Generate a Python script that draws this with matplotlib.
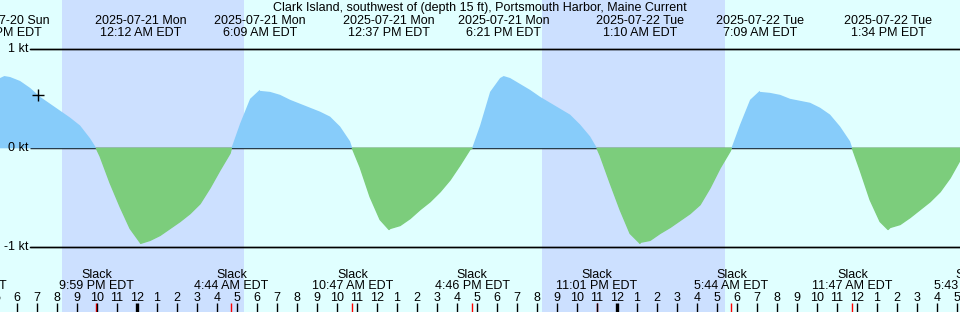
import matplotlib
matplotlib.use("Agg")
import matplotlib.pyplot as plt
import matplotlib.transforms as mtransforms
from datetime import datetime
import numpy as np

# ---------------- data ----------------
title = "Clark Island, southwest of (depth 15 ft), Portsmouth Harbor, Maine Current"
base_time = "2025-07-21 00:00"

# current curve samples (hours since 2025-07-21 00:00 EDT, knots)
curve_hours = [-6.83, -6.33, -5.83, -5.33, -4.83, -4.33, -3.83, -3.33, -2.83, -2.33,
               -1.83, -1.33, -0.83, -0.33, 0.17, 0.67, 1.17, 1.67, 2.17, 2.67,
               3.17, 3.67, 4.17, 4.67, 5.17, 5.67, 6.17, 6.67, 7.17, 7.67,
               8.17, 8.67, 9.17, 9.67, 10.17, 10.67, 11.17, 11.67, 12.17, 12.67,
               13.17, 13.67, 14.17, 14.67, 15.17, 15.67, 16.17, 16.67, 17.17, 17.67,
               18.17, 18.67, 19.17, 19.67, 20.17, 20.67, 21.17, 21.67, 22.17, 22.67,
               23.17, 23.67, 24.17, 24.67, 25.17, 25.67, 26.17, 26.67, 27.17, 27.67,
               28.17, 28.67, 29.17, 29.67, 30.17, 30.67, 31.17, 31.67, 32.17, 32.67,
               33.17, 33.67, 34.17, 34.67, 35.17, 35.67, 36.17, 36.67, 37.17, 37.67,
               38.17, 38.67, 39.17, 39.67, 40.17, 40.67, 41.17]
curve_knots = [0.71, 0.72, 0.68, 0.61, 0.52, 0.45, 0.38, 0.31, 0.23, 0.10,
               -0.08, -0.35, -0.59, -0.81, -0.95, -0.93, -0.88, -0.81, -0.74, -0.66,
               -0.56, -0.40, -0.22, -0.05, 0.25, 0.50, 0.58, 0.57, 0.54, 0.49,
               0.45, 0.41, 0.37, 0.32, 0.22, 0.07, -0.19, -0.49, -0.72, -0.81,
               -0.78, -0.71, -0.62, -0.54, -0.44, -0.32, -0.17, -0.01, 0.23, 0.57,
               0.71, 0.71, 0.65, 0.59, 0.52, 0.46, 0.40, 0.34, 0.24, 0.12,
               -0.07, -0.35, -0.62, -0.86, -0.95, -0.93, -0.86, -0.80, -0.73, -0.66,
               -0.57, -0.40, -0.20, -0.03, 0.24, 0.49, 0.57, 0.56, 0.54, 0.50,
               0.48, 0.46, 0.41, 0.34, 0.22, 0.07, -0.22, -0.52, -0.74, -0.80,
               -0.77, -0.70, -0.62, -0.54, -0.44, -0.30, -0.12]

# max flood / ebb events
max_times = ["2025-07-20 17:23", "2025-07-21 00:12", "2025-07-21 06:09", "2025-07-21 12:37",
             "2025-07-21 18:21", "2025-07-22 01:10", "2025-07-22 07:09", "2025-07-22 13:34"]
max_knots = [0.73, -0.96, 0.59, -0.82, 0.73, -0.96, 0.58, -0.82]

# slack events
slack_times = ["2025-07-20 15:38", "2025-07-20 21:59", "2025-07-21 04:44", "2025-07-21 10:47",
               "2025-07-21 16:46", "2025-07-21 23:01", "2025-07-22 05:44", "2025-07-22 11:47",
               "2025-07-22 17:43"]

# night (sunset -> sunrise)
night_start = ["2025-07-20 20:16", "2025-07-21 20:16"]
night_end = ["2025-07-21 05:22", "2025-07-22 05:25"]

# current-time marker
now_time = "2025-07-20 19:05"
now_knots = 0.54

level_values = [1, 0, -1]
level_labels = ["1 kt", "0 kt", "-1 kt"]

# ---------------- helpers ----------------
FMT = "%Y-%m-%d %H:%M"
t0 = datetime.strptime(base_time, FMT)


def hrs(s):
    return (datetime.strptime(s, FMT) - t0).total_seconds() / 3600.0


def clock(s):
    d = datetime.strptime(s, FMT)
    return f"{d.hour % 12 or 12}:{d.minute:02d} {'AM' if d.hour < 12 else 'PM'} EDT"


W, H = 960, 312
DAY = "#E0FFFF"
NIGHT = "#CCE0FF"
FLOOD = "#87CCFA"
EBB = "#7CCD7C"
FONT = "Liberation Sans"
FS = 9.0

fig = plt.figure(figsize=(W / 100, H / 100), dpi=100)
fig.patch.set_facecolor(DAY)
ax = fig.add_axes([0, 0, 1, 1])
ax.set_facecolor(DAY)
ax.set_axis_off()

# pixel-based limits
x_left = -6.835
px_per_hour = 20.0
ax.set_xlim(x_left, x_left + W / px_per_hour)
zero_px, kt_px = 148.3, 99.0
ax.set_ylim((zero_px - H) / kt_px, zero_px / kt_px)

bt = mtransforms.blended_transform_factory(ax.transData, ax.transAxes)
at = mtransforms.blended_transform_factory(ax.transAxes, ax.transData)


def yfrac(ypix):
    return 1 - ypix / H


# night shading
for s, e in zip(night_start, night_end):
    ax.axvspan(hrs(s), hrs(e), color=NIGHT, lw=0, zorder=0)

# merge curve with events
pts = {round(h, 3): v for h, v in zip(curve_hours, curve_knots)}
for s in slack_times:
    pts[round(hrs(s), 3)] = 0.0
for s, v in zip(max_times, max_knots):
    pts[round(hrs(s), 3)] = v
th = np.array(sorted(pts))
tv = np.array([pts[k] for k in sorted(pts)])

# level lines (below fills)
for v, lab in zip(level_values, level_labels):
    ax.plot([30 / W, 1], [v, v], transform=at, color="black", lw=1.0, zorder=1,
            solid_capstyle="butt")
    ax.text(28.5 / W, v, lab, transform=at, ha="right", va="center",
            fontsize=FS, family=FONT, zorder=5)

ax.fill_between(th, tv, 0, where=tv >= 0, interpolate=True, color=FLOOD, lw=0, zorder=2)
ax.fill_between(th, tv, 0, where=tv <= 0, interpolate=True, facecolor=EBB,
                edgecolor=EBB, lw=1.0, zorder=2)
# keep 1/-1 lines on top
for v in (1, -1):
    ax.plot([30 / W, 1], [v, v], transform=at, color="black", lw=1.0, zorder=3)

# marker
ax.plot([hrs(now_time)], [now_knots], marker="+", color="black", ms=9, mew=1.0, zorder=4)

# title
ax.text(0.5, yfrac(11), title, transform=ax.transAxes, ha="center", va="baseline",
        fontsize=FS, family=FONT)

# max labels
for s in max_times:
    d = datetime.strptime(s, FMT)
    x = hrs(s)
    ax.text(x, yfrac(24), d.strftime("%Y-%m-%d %a"), transform=bt, ha="center",
            va="baseline", fontsize=FS, family=FONT)
    ax.text(x, yfrac(35.7), clock(s), transform=bt, ha="center", va="baseline",
            fontsize=FS, family=FONT)

# slack labels + red ticks
for s in slack_times:
    x = hrs(s)
    ax.text(x, yfrac(277.7), "Slack", transform=bt, ha="center", va="baseline",
            fontsize=FS, family=FONT)
    ax.text(x, yfrac(289.3), clock(s), transform=bt, ha="center", va="baseline",
            fontsize=FS, family=FONT)
    ax.plot([x, x], [yfrac(302.7), 0], transform=bt, color="red", lw=1.0,
            solid_capstyle="butt")

# hour ticks
for h in range(-7, 42):
    lab = str(h % 12 or 12)
    ax.text(h, yfrac(301.3), lab, transform=bt, ha="center", va="baseline",
            fontsize=FS, family=FONT)
    lw = 2.4 if h % 24 == 0 else 1.0
    ax.plot([h, h], [yfrac(302.7), 0], transform=bt, color="black", lw=lw,
            solid_capstyle="butt")

fig.savefig("out.png", dpi=100, facecolor=DAY)
